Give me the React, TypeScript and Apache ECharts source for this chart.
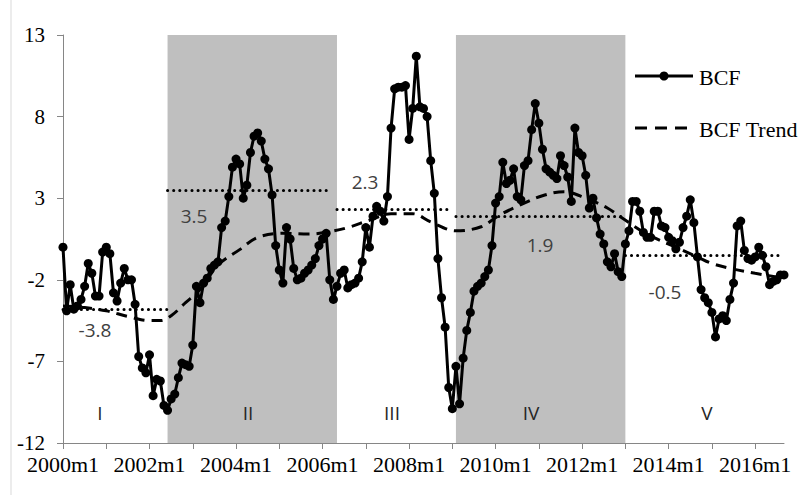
import React, { useEffect, useRef } from "react";
import * as echarts from "echarts";

// ---------- data ----------
const startYear = 2000;
const monthCount = 201; // 2000m1 .. 2016m9
const categories: string[] = Array.from(
  { length: monthCount },
  (_, i) => `${startYear + Math.floor(i / 12)}m${(i % 12) + 1}`
);

const yTicks = [-12, -7, -2, 3, 8, 13];

const bcf = [
  // 2000
  0.0, -3.9, -2.3, -3.8, -3.6, -3.2, -2.4, -1.0, -1.6, -3.0, -3.0, -0.3,
  // 2001
  0.0, -0.4, -2.8, -3.3, -2.2, -1.3, -2.0, -2.0, -3.5, -6.7, -7.4, -7.7,
  // 2002
  -6.6, -9.1, -8.1, -8.2, -9.7, -10.0, -9.3, -9.0, -8.0, -7.1, -7.2, -7.3,
  // 2003
  -6.0, -2.4, -3.4, -2.2, -1.9, -1.3, -1.1, -0.9, 1.2, 1.6, 3.1, 4.9,
  // 2004
  5.4, 5.1, 3.0, 3.8, 5.8, 6.8, 7.0, 6.5, 5.4, 4.8, 3.2, 0.1,
  // 2005
  -1.4, -2.2, 1.2, 0.5, -1.3, -2.0, -1.9, -1.6, -1.4, -1.1, -0.7, 0.1,
  // 2006
  0.5, 0.85, -2.0, -3.2, -2.4, -1.6, -1.4, -2.5, -2.3, -2.2, -1.9, -0.9,
  // 2007
  1.2, 0.0, 1.9, 2.5, 2.2, 1.6, 3.1, 7.3, 9.7, 9.8, 9.8, 9.9,
  // 2008
  6.6, 8.5, 11.7, 8.6, 8.5, 8.0, 5.3, 3.3, -0.7, -3.1, -4.9, -8.6,
  // 2009
  -9.9, -7.3, -9.6, -6.8, -5.1, -4.0, -2.7, -2.4, -2.2, -1.8, -1.4, 0.1,
  // 2010
  2.7, 3.1, 5.2, 3.9, 4.1, 4.8, 3.1, 2.9, 5.0, 5.3, 7.2, 8.8,
  // 2011
  7.6, 6.0, 4.8, 4.6, 4.4, 4.2, 5.6, 5.0, 4.3, 2.8, 7.3, 5.8,
  // 2012
  5.6, 4.4, 2.4, 3.0, 1.8, 0.8, 0.2, -0.9, -1.2, -0.4, -1.5, -1.8,
  // 2013
  0.2, 1.0, 2.8, 2.8, 2.2, 0.9, 0.6, 0.6, 2.2, 2.2, 1.3, 1.2,
  // 2014
  0.6, 0.4, -0.1, 0.3, 1.2, 1.9, 2.9, 1.5, -0.6, -2.6, -3.1, -3.4,
  // 2015
  -4.0, -5.5, -4.4, -4.2, -4.5, -3.2, -2.2, 1.3, 1.6, -0.2, -0.7, -0.8,
  // 2016
  -0.6, 0.0, -0.5, -1.2, -2.3, -2.1, -2.0, -1.7, -1.7,
];

// trend read at selected months (month index from 2000m1)
const trendIdx = [0, 6, 12, 18, 24, 27, 30, 34, 38, 43, 49, 54, 61, 68, 74, 79, 85, 91, 97, 102, 109, 116, 121, 127, 133, 139, 145, 151, 155, 162, 170, 176, 180, 185, 192, 200];
const trendVal = [-3.6, -3.7, -3.9, -4.25, -4.5, -4.5, -4.2, -3.4, -2.6, -1.1, -0.15, 0.6, 0.85, 0.8, 0.95, 1.2, 1.65, 2.05, 2.05, 1.55, 1.0, 1.25, 1.95, 2.6, 3.15, 3.4, 3.0, 2.4, 1.8, 0.8, 0.0, -0.6, -1.0, -1.3, -1.6, -1.9];

const shadeFrom = ["2002m6", "2009m2"];
const shadeTo = ["2006m5", "2013m1"];

const periodNames = ["I", "II", "III", "IV", "V"];
const meanValues = [-3.8, 3.5, 2.3, 1.9, -0.5];
const meanLabels = ["-3.8", "3.5", "2.3", "1.9", "-0.5"];
const meanStart = ["2000m1", "2002m6", "2006m5", "2009m2", "2013m1"];
const meanEnd = ["2002m6", "2006m3", "2009m1", "2012m12", "2016m8"];

const legendNames = ["BCF", "BCF Trend"];

export default function App() {
  const ref = useRef<HTMLDivElement>(null);

  useEffect(() => {
    if (!ref.current) return;
    const chart = echarts.init(ref.current, undefined, { renderer: "svg" });

    const trend: (number | null)[] = categories.map(() => null);
    trendIdx.forEach((m, i) => {
      trend[m] = trendVal[i];
    });

    const serif = "Liberation Serif, Times New Roman, serif";
    const sans = "Open Sans, Noto Sans, sans-serif";

    const romanPos = [
      [100, 413],
      [248, 413],
      [392, 413],
      [531, 413],
      [707, 413],
    ];
    const meanLabelPos = [
      [95, 330],
      [194, 216],
      [365, 182],
      [540, 245],
      [665, 292],
    ];

    const graphics: any[] = [
      {
        type: "line",
        shape: { x1: 11, y1: 0, x2: 11, y2: 495 },
        style: { stroke: "#d9d9d9", lineWidth: 1 },
        silent: true,
      },
      // legend: BCF
      {
        type: "line",
        shape: { x1: 635, y1: 76, x2: 693, y2: 76 },
        style: { stroke: "#000", lineWidth: 3 },
        z: 20,
      },
      {
        type: "circle",
        shape: { cx: 664, cy: 76, r: 4.5 },
        style: { fill: "#000" },
        z: 21,
      },
      {
        type: "text",
        x: 699,
        y: 77,
        style: { text: legendNames[0], font: `22px ${serif}`, fill: "#000", verticalAlign: "middle" },
        z: 21,
      },
      // legend: BCF Trend
      {
        type: "line",
        shape: { x1: 635, y1: 128, x2: 693, y2: 128 },
        style: { stroke: "#000", lineWidth: 3, lineDash: [12, 8] },
        z: 20,
      },
      {
        type: "text",
        x: 699,
        y: 129,
        style: { text: legendNames[1], font: `22px ${serif}`, fill: "#000", verticalAlign: "middle" },
        z: 21,
      },
    ];
    periodNames.forEach((t, i) => {
      graphics.push({
        type: "text",
        x: romanPos[i][0],
        y: romanPos[i][1],
        style: {
          text: t,
          font: `19px ${sans}`,
          fill: "#262626",
          align: "center",
          verticalAlign: "middle",
        },
        z: 20,
      });
    });
    meanLabels.forEach((t, i) => {
      graphics.push({
        type: "text",
        x: meanLabelPos[i][0],
        y: meanLabelPos[i][1],
        style: {
          text: t,
          font: `19px ${sans}`,
          fill: "#404040",
          align: "center",
          verticalAlign: "middle",
        },
        z: 20,
      });
    });

    chart.setOption({
      animation: false,
      grid: { left: 63, right: 20, top: 35, bottom: 52, containLabel: false },
      xAxis: {
        type: "category",
        data: categories,
        boundaryGap: false,
        axisLine: { onZero: false, lineStyle: { color: "#868686", width: 1 } },
        axisTick: { show: true, interval: 11, length: 6, lineStyle: { color: "#868686" } },
        axisLabel: {
          interval: 23,
          fontFamily: serif,
          fontSize: 22,
          color: "#000",
          margin: 10,
        },
        splitLine: { show: false },
      },
      yAxis: {
        type: "value",
        min: -12,
        max: 13,
        axisLine: { show: true, lineStyle: { color: "#868686", width: 1 } },
        axisTick: { show: true, length: 6, customValues: yTicks, lineStyle: { color: "#868686" } },
        axisLabel: {
          customValues: yTicks,
          fontFamily: serif,
          fontSize: 21,
          color: "#000",
          margin: 18,
        },
        splitLine: { show: false },
      },
      graphic: graphics,
      series: [
        {
          name: "shade",
          type: "line",
          data: [],
          z: 1,
          silent: true,
          markArea: {
            silent: true,
            itemStyle: { color: "#bfbfbf" },
            data: shadeFrom.map((f, i) => [{ xAxis: f }, { xAxis: shadeTo[i] }]),
          },
        },
        {
          name: "means",
          type: "line",
          data: [],
          z: 2,
          silent: true,
          markLine: {
            silent: true,
            symbol: ["none", "none"],
            label: { show: false },
            lineStyle: { color: "#000", width: 3, type: [0.1, 6], cap: "round" },
            data: meanValues.map((v, i) => [
              { coord: [meanStart[i], v] },
              { coord: [meanEnd[i], v] },
            ]),
          },
        },
        {
          name: "BCF Trend",
          type: "line",
          data: trend,
          connectNulls: true,
          smooth: 0.35,
          symbol: "none",
          showSymbol: false,
          z: 3,
          silent: true,
          lineStyle: { color: "#000", width: 3, type: [11, 7] },
          itemStyle: { color: "#000" },
        },
        {
          name: "BCF",
          type: "line",
          data: bcf,
          symbol: "circle",
          symbolSize: 9,
          showSymbol: true,
          showAllSymbol: true,
          z: 4,
          silent: true,
          lineStyle: { color: "#000", width: 3 },
          itemStyle: { color: "#000" },
        },
      ],
    });

    return () => chart.dispose();
  }, []);

  return (
    <div
      ref={ref}
      style={{ position: "absolute", left: 0, top: 0, width: 804, height: 495, background: "#fff" }}
    />
  );
}
